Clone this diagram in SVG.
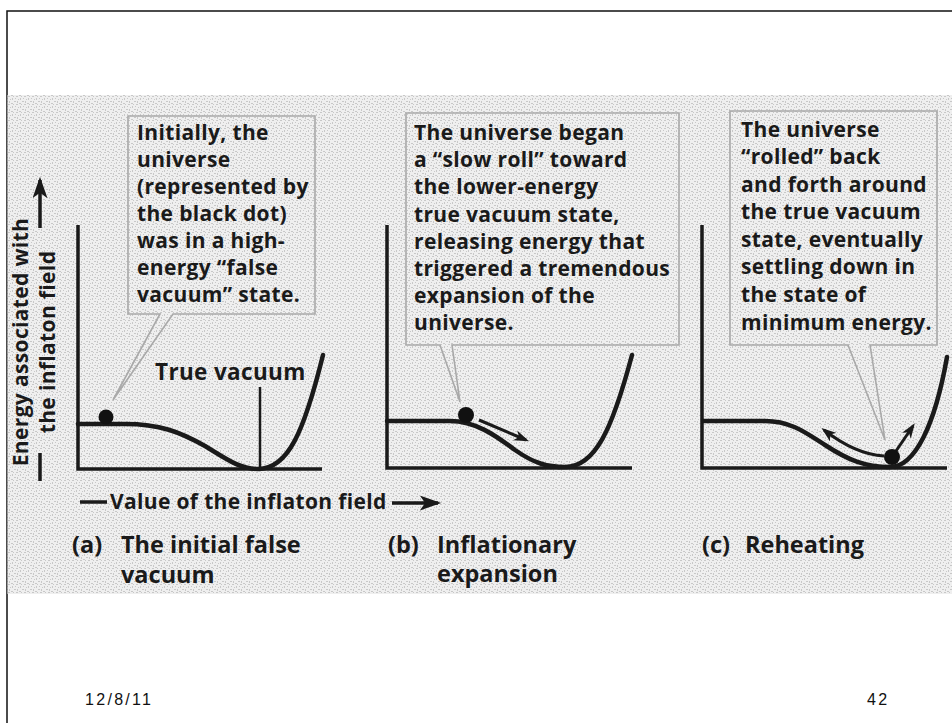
<svg xmlns="http://www.w3.org/2000/svg" width="952" height="723" viewBox="0 0 952 723">
<style>
.t{font-family:"Open Sans","Noto Sans","DejaVu Sans",sans-serif;font-weight:700;fill:#1a1a1a;font-size:21px;letter-spacing:0.35px}
.lab{font-size:23.5px;letter-spacing:0}
.tv{font-size:22.5px}
.ax{stroke:#1a1a1a;stroke-width:3.5;fill:none}
.cv{stroke:#1a1a1a;stroke-width:4.5;fill:none;stroke-linecap:round}
.box{stroke:#a9a9a9;stroke-width:1.6;fill:none}
.arr{stroke:#1a1a1a;stroke-width:3;fill:none;marker-end:url(#ah)}
.arr2{stroke:#1a1a1a;stroke-width:3.5;fill:none;marker-end:url(#ah2)}
.ft{font-family:"Liberation Sans",Arial,sans-serif;font-size:16px;fill:#111;letter-spacing:2.3px}
</style>
<defs>
<pattern id="tex" width="8" height="8" patternUnits="userSpaceOnUse">
<rect width="8" height="8" fill="#efefef"/>
<path d="M0,0h2v1h-2z M4,2h1v2h-1z M6,5h2v1h-2z M1,5h1v2h-1z M3,7h2v1h-2z M5,0h1v1h-1z M2,3h1v1h-1z M7,2h1v1h-1z" fill="#c8c8c8"/>
</pattern>
<marker id="ah" viewBox="0 0 14 10" refX="11" refY="5" markerWidth="15" markerHeight="11" markerUnits="userSpaceOnUse" orient="auto">
<path d="M0,0 L14,5 L0,10 L4,5 z" fill="#1a1a1a"/>
</marker>
<marker id="ah2" viewBox="0 0 20 14" refX="17" refY="7" markerWidth="22" markerHeight="15" markerUnits="userSpaceOnUse" orient="auto">
<path d="M0,0 L20,7 L0,14 L5,7 z" fill="#1a1a1a"/>
</marker>
</defs>
<rect width="952" height="723" fill="#ffffff"/>
<path d="M7,723 V11 H952" fill="none" stroke="#111" stroke-width="1.5"/>
<rect x="7.5" y="95" width="944.5" height="499" fill="url(#tex)"/>

<g id="axis-labels">
<text class="t" text-anchor="middle" transform="translate(28,342) rotate(-90)">Energy associated with</text>
<text class="t" text-anchor="middle" transform="translate(55,342) rotate(-90)">the inflaton field</text>
<text class="t" x="110" y="509">Value of the inflaton field</text>
</g>

<g id="connectors">
<line class="arr2" x1="40" y1="228" x2="40" y2="180"/>
<line class="ax" x1="40" y1="453" x2="40" y2="481"/>
<line class="ax" x1="80" y1="502" x2="107" y2="502"/>
<line class="arr2" x1="392" y1="503" x2="438" y2="503"/>
<line class="arr" x1="479" y1="420" x2="526" y2="440"/>
<path class="arr" d="M884,456 C866,455 846,447 824,430"/>
<line class="arr" x1="896" y1="451" x2="913" y2="426"/>
</g>

<g id="panel-a">
<path class="ax" d="M78,225 V469 H322"/>
<path class="cv" d="M78,424 L125,424 C160,424 180,432 205,446 C228,460 240,469 258,469 C288,469 304,432 323,355"/>
<line x1="260" y1="387" x2="260" y2="469" stroke="#1a1a1a" stroke-width="2.5"/>
<circle cx="106" cy="417" r="7.5" fill="#111"/>
<text class="t tv" x="155" y="380">True vacuum</text>
<path class="box" d="M128,116 H315 V314 H173 L113,400 L160,314 H128 Z"/>
<text class="t" x="137" y="140">Initially, the</text>
<text class="t" x="137" y="167">universe</text>
<text class="t" x="137" y="194">(represented by</text>
<text class="t" x="137" y="221">the black dot)</text>
<text class="t" x="137" y="248">was in a high-</text>
<text class="t" x="137" y="275">energy “false</text>
<text class="t" x="137" y="302">vacuum” state.</text>
<text class="t lab" x="72" y="553">(a)</text>
<text class="t lab" x="121" y="553">The initial false</text>
<text class="t lab" x="121" y="583">vacuum</text>
</g>

<g id="panel-b">
<path class="ax" d="M387,225 V468 H632"/>
<path class="cv" d="M387,421 L450,421 C475,421 495,435 515,450 C535,464 548,467 565,467 C595,467 612,430 632,355"/>
<circle cx="466" cy="415" r="8" fill="#111"/>
<path class="box" d="M406,113 H679 V345 H452 L460,402 L440,345 H406 Z"/>
<text class="t" x="414" y="140">The universe began</text>
<text class="t" x="414" y="167">a “slow roll” toward</text>
<text class="t" x="414" y="194">the lower-energy</text>
<text class="t" x="414" y="222">true vacuum state,</text>
<text class="t" x="414" y="249">releasing energy that</text>
<text class="t" x="414" y="276">triggered a tremendous</text>
<text class="t" x="414" y="303">expansion of the</text>
<text class="t" x="414" y="330">universe.</text>
<text class="t lab" x="388" y="553">(b)</text>
<text class="t lab" x="437" y="553">Inflationary</text>
<text class="t lab" x="437" y="582">expansion</text>
</g>

<g id="panel-c">
<path class="ax" d="M702,225 V468 H947"/>
<path class="cv" d="M703,421 L765,421 C790,421 805,432 825,445 C848,460 865,467 890,467 C915,467 935,425 947,357"/>
<circle cx="892" cy="457" r="8" fill="#111"/>
<path class="box" d="M730,111 H937 V345 H870 L885,440 L848,345 H730 Z"/>
<text class="t" x="741" y="137">The universe</text>
<text class="t" x="741" y="164">“rolled” back</text>
<text class="t" x="741" y="192">and forth around</text>
<text class="t" x="741" y="219">the true vacuum</text>
<text class="t" x="741" y="247">state, eventually</text>
<text class="t" x="741" y="274">settling down in</text>
<text class="t" x="741" y="302">the state of</text>
<text class="t" x="741" y="330">minimum energy.</text>
<text class="t lab" x="702" y="553">(c)</text>
<text class="t lab" x="745" y="553">Reheating</text>
</g>

<g id="footer">
<text class="ft" x="85" y="705">12/8/11</text>
<text class="ft" x="867" y="705">42</text>
</g>
</svg>
